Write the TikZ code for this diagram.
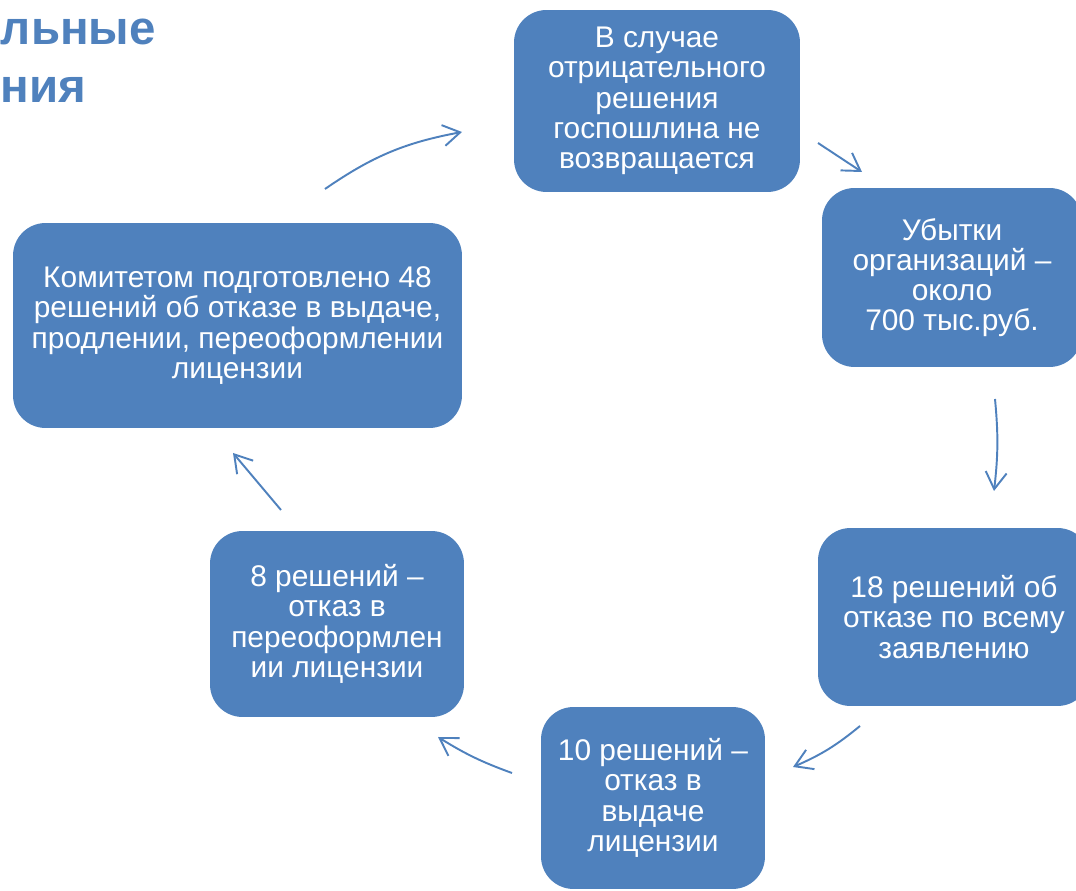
\documentclass[tikz,border=0pt]{standalone}
\usepackage{fontspec}
\setmainfont{Liberation Sans}
\usetikzlibrary{positioning, arrows.meta}
\definecolor{boxblue}{HTML}{4F81BD}

\begin{document}
\begin{tikzpicture}[x=0.02cm, y=-0.02cm, line width=1.1pt]
    \tikzstyle{stage}=[
        fill = boxblue,
        draw = none,
        rounded corners = 0.65cm,
        text = white,
        align = center,
        inner sep = 0pt,
        font = \fontsize{17}{17.2}\selectfont
    ]
    \tikzstyle{cycle}=[
        draw = boxblue,
        -{Straight Barb[length=3.4mm, width=4.2mm]}
    ]
    \tikzstyle{heading}=[
        anchor = west,
        inner sep = 0pt,
        text = boxblue,
        font = \fontsize{27}{30}\selectfont\bfseries
    ]
    \clip (0,0) rectangle (1076,891);

    % heading at the left edge
    \node (head1) [heading] at (0,32) {льные};
    \node (head2) [heading] at (0,90) {ния};

    \node (top) [stage, minimum width=5.72cm, minimum height=3.64cm] at (657,101)
        {В случае\\ отрицательного\\ решения\\ госпошлина не\\ возвращается};
    \node (loss) [stage, minimum width=5.2cm, minimum height=3.58cm] at (952,277.5)
        {Убытки\\ организаций –\\ около\\ 700 тыс.руб.};
    \node (full) [stage, minimum width=5.44cm, minimum height=3.56cm] at (954,617)
        {18 решений об\\ отказе по всему\\ заявлению};
    \node (issue) [stage, minimum width=4.48cm, minimum height=3.64cm] at (653,798)
        {10 решений –\\ отказ в\\ выдаче\\ лицензии};
    \node (reform) [stage, minimum width=5.08cm, minimum height=3.72cm] at (337,624)
        {8 решений –\\ отказ в\\ переоформлен\\ ии лицензии};
    \node (total) [stage, minimum width=8.98cm, minimum height=4.1cm] at (237.5,325.5)
        {Комитетом подготовлено 48\\ решений об отказе в выдаче,\\ продлении, переоформлении\\ лицензии};

    % arrow ends between the boxes
    \coordinate (t1) at (325,189);  \coordinate (t2) at (462,132);
    \coordinate (l1) at (818,143);  \coordinate (l2) at (862,172);
    \coordinate (f1) at (995,399);  \coordinate (f2) at (994,491);
    \coordinate (i1) at (860,726);  \coordinate (i2) at (793,767);
    \coordinate (r1) at (512,773);  \coordinate (r2) at (438,737);
    \coordinate (o1) at (281,510);  \coordinate (o2) at (233,453);

    \path (t1) edge [cycle, bend left=12] (t2)
          (l1) edge [cycle] (l2)
          (f1) edge [cycle, bend left=6] (f2)
          (i1) edge [cycle, bend left=8] (i2)
          (r1) edge [cycle, bend left=6] (r2)
          (o1) edge [cycle] (o2);
\end{tikzpicture}
\end{document}
